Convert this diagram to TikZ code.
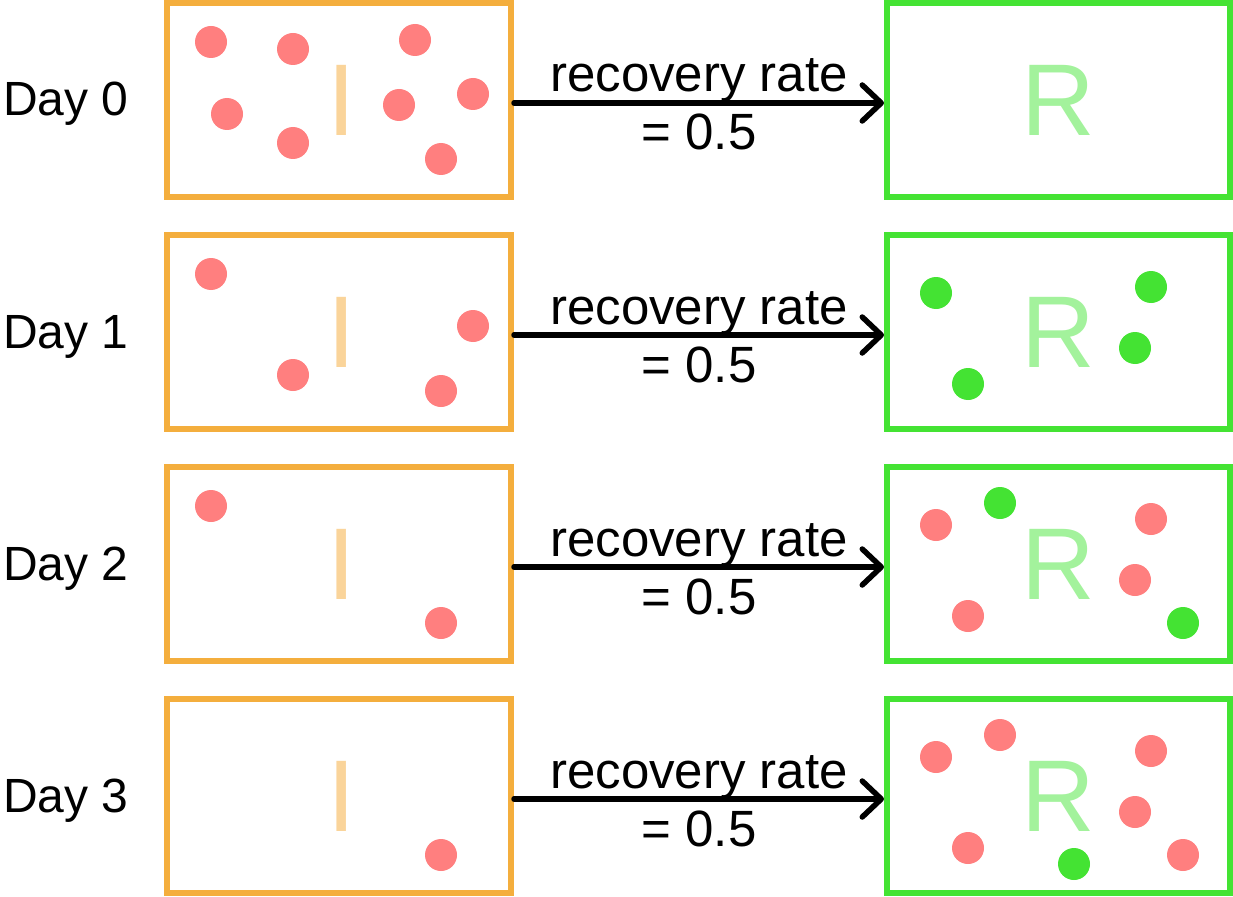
\documentclass[tikz,border=0pt]{standalone}
\usepackage{fontspec}
\setmainfont{Liberation Sans}
\usetikzlibrary{arrows.meta}
\definecolor{iorange}{HTML}{F4AE3D}
\definecolor{ilight}{HTML}{FAD49A}
\definecolor{rgreen}{HTML}{44E333}
\definecolor{rlight}{HTML}{A3F29C}
\definecolor{dotred}{HTML}{FF7F7F}
\begin{document}
\begin{tikzpicture}[x=1pt,y=-1pt,
  ibox/.style={draw=iorange, line width=6pt, minimum width=344pt, minimum height=194pt, inner sep=0pt, text=ilight, font=\fontsize{102}{102}\selectfont},
  rbox/.style={draw=rgreen, line width=6pt, minimum width=343pt, minimum height=194pt, inner sep=0pt, text=rlight, font=\fontsize{102}{102}\selectfont},
  daylabel/.style={font=\fontsize{48}{48}\selectfont, anchor=base, inner sep=0pt},
  flow/.style={line width=5.5pt, line cap=round, -{Straight Barb[length=19pt,width=36pt,round]}},
  ratelab/.style={font=\fontsize{51}{51}\selectfont, anchor=base, inner sep=0pt},
  reddot/.style={circle, fill=dotred, minimum size=32pt, inner sep=0pt},
  greendot/.style={circle, fill=rgreen, minimum size=32pt, inner sep=0pt}]
\useasboundingbox (0,0) rectangle (1233,896);
\foreach \n/\c in {0/100,1/332,2/564,3/796}{
  \node[ibox] (I\n) at (339,\c) {\hspace*{5pt}I};
  \node[rbox] (R\n) at (1058.5,\c) {R};
  \node[daylabel] (day\n) at (66,\c+16) {Day \n};
  \draw[flow] ([yshift=-3pt]I\n.east) -- ([yshift=-3pt]R\n.west)
    node[ratelab, pos=0.5, yshift=11pt] (rate\n) {recovery rate}
    node[ratelab, pos=0.5, yshift=-47pt] (val\n) {= 0.5};
}
% infected dots
\foreach \dx/\dy [count=\k] in {-128/-58, -46/-51, 76/-60, -112/14, -46/43, 60/5, 134/-6, 102/59}
  \node[reddot] (i0d\k) at (339+\dx,100+\dy) {};
\foreach \dx/\dy [count=\k] in {-128/-58, -46/43, 134/-6, 102/59}
  \node[reddot] (i1d\k) at (339+\dx,332+\dy) {};
\foreach \dx/\dy [count=\k] in {-128/-58, 102/59}
  \node[reddot] (i2d\k) at (339+\dx,564+\dy) {};
\node[reddot] (i3d1) at (339+102,796+59) {};
% recovered-box dots
\foreach \dx/\dy [count=\k] in {-122.5/-39, -90.5/52, 92.5/-45, 76.5/16}
  \node[greendot] (r1g\k) at (1058.5+\dx,332+\dy) {};
\foreach \dx/\dy [count=\k] in {-122.5/-39, 92.5/-45, 76.5/16, -90.5/52}
  \node[reddot] (r2d\k) at (1058.5+\dx,564+\dy) {};
\foreach \dx/\dy [count=\k] in {-58.5/-61, 124.5/59}
  \node[greendot] (r2g\k) at (1058.5+\dx,564+\dy) {};
\foreach \dx/\dy [count=\k] in {-122.5/-39, -58.5/-61, 92.5/-45, 76.5/16, -90.5/52, 124.5/59}
  \node[reddot] (r3d\k) at (1058.5+\dx,796+\dy) {};
\node[greendot] (r3g1) at (1058.5+15.5,796+68) {};
\end{tikzpicture}
\end{document}
